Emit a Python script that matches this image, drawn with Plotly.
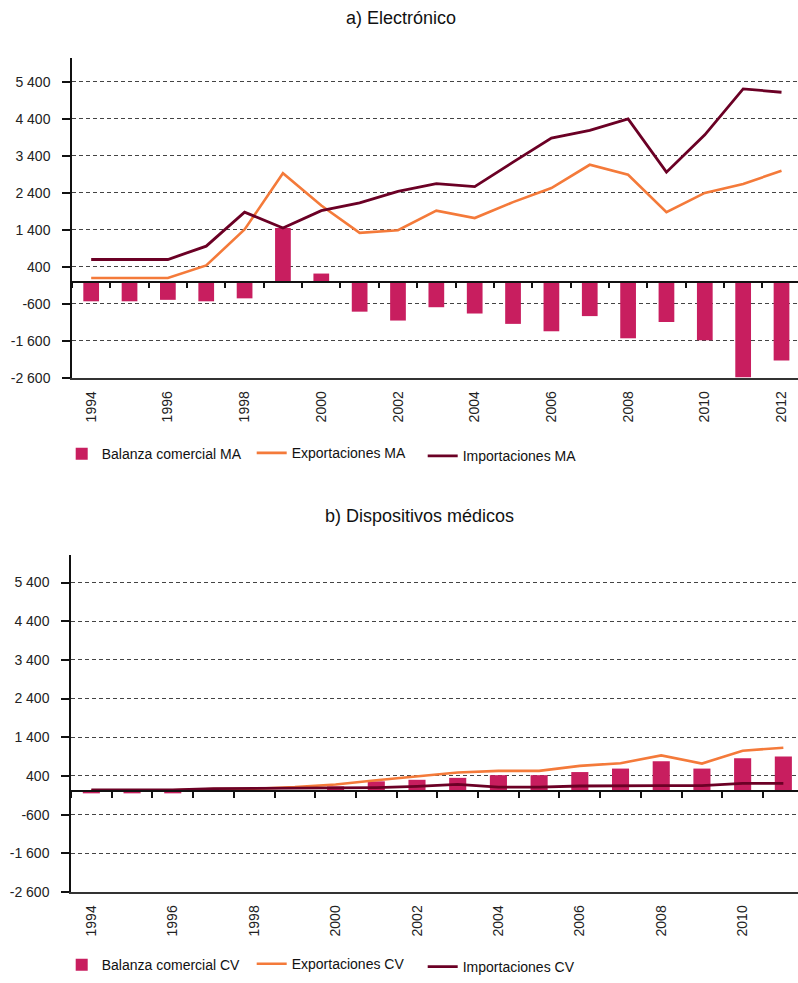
import plotly.graph_objects as go

W, H = 798, 983

years_a = list(range(1994, 2013))
balanza_ma = [-530, -530, -490, -530, -450, 1450, 220, -810, -1050, -690, -860,
              -1140, -1340, -930, -1530, -1090, -1580, -2580, -2130]
export_ma = [100, 100, 100, 440, 1410, 2930, 2060, 1320, 1390, 1920, 1720,
             2150, 2530, 3160, 2890, 1880, 2400, 2640, 3000]
import_ma = [600, 600, 600, 960, 1880, 1450, 1920, 2130, 2440, 2650, 2570,
             3230, 3880, 4090, 4400, 2960, 3970, 5210, 5120]

years_b = list(range(1994, 2012))
balanza_cv = [-50, -50, -50, 10, 10, 20, 130, 260, 300, 350, 420, 420, 500,
              590, 780, 590, 860, 900]
export_cv = [30, 30, 30, 60, 70, 110, 180, 290, 390, 490, 530, 530, 660,
             730, 930, 720, 1050, 1130]
import_cv = [40, 40, 40, 70, 75, 75, 80, 100, 130, 180, 110, 110, 140, 150,
             150, 150, 210, 210]

ytick_vals = [-2600, -1600, -600, 400, 1400, 2400, 3400, 4400, 5400]
ytick_text = ["-2 600", "-1 600", "-600", "400", "1 400", "2 400", "3 400",
              "4 400", "5 400"]

C_BAR = "#C81E5F"
C_EXP = "#F47A3A"
C_IMP = "#6B0025"
FONT = "Liberation Sans, Arial, sans-serif"

# pixel layout
top_a, bot_a = 58.3, 381.0
top_b, bot_b = 560.0, 899.3
range_a = [-2600, 6050]
range_b = [-2600, 6100]


def py(p):
    return 1 - p / H


def px(p):
    return p / W


dom_a = [py(bot_a), py(top_a)]
dom_b = [py(bot_b), py(top_b)]


def zero_pos(dom, rng):
    return dom[0] + (0 - rng[0]) / (rng[1] - rng[0]) * (dom[1] - dom[0])


xa = list(range(len(years_a)))
xb = list(range(len(years_b)))

fig = go.Figure()

# Panel a
fig.add_trace(go.Bar(x=xa, y=balanza_ma, name="Balanza comercial MA",
                     marker=dict(color=C_BAR, line=dict(width=0)), width=0.41,
                     xaxis="x", yaxis="y", legend="legend", showlegend=True))
fig.add_trace(go.Scatter(x=xa, y=export_ma, name="Exportaciones MA", mode="lines",
                         line=dict(color=C_EXP, width=2.6), xaxis="x3", yaxis="y",
                         legend="legend2", showlegend=True))
fig.add_trace(go.Scatter(x=xa, y=import_ma, name="Importaciones MA", mode="lines",
                         line=dict(color=C_IMP, width=2.8), xaxis="x3", yaxis="y",
                         legend="legend3", showlegend=True))

# Panel b
fig.add_trace(go.Bar(x=xb, y=balanza_cv, name="Balanza comercial CV",
                     marker=dict(color=C_BAR, line=dict(width=0)), width=0.42,
                     xaxis="x2", yaxis="y2", legend="legend4", showlegend=True))
fig.add_trace(go.Scatter(x=xb, y=export_cv, name="Exportaciones CV", mode="lines",
                         line=dict(color=C_EXP, width=2.6), xaxis="x4", yaxis="y2",
                         legend="legend5", showlegend=True))
fig.add_trace(go.Scatter(x=xb, y=import_cv, name="Importaciones CV", mode="lines",
                         line=dict(color=C_IMP, width=2.8), xaxis="x4", yaxis="y2",
                         legend="legend6", showlegend=True))

xr_a = [-0.5, 18.43]
xr_b = [-0.5, 17.36]

lab_a_vals = [i for i in xa if i % 2 == 0]
lab_a_text = [str(years_a[i]) for i in lab_a_vals]
lab_b_vals = [i for i in xb if i % 2 == 0]
lab_b_text = [str(years_b[i]) for i in lab_b_vals]

xbase = dict(showgrid=False, zeroline=False, fixedrange=True,
             tickfont=dict(family=FONT, size=14, color="#222"))

yaxis_common = dict(
    tickvals=ytick_vals, ticktext=ytick_text, showgrid=True, gridcolor="#444",
    griddash="4px,3px", gridwidth=1, zeroline=False, showline=True,
    linecolor="#111", linewidth=1.5, ticks="outside", ticklen=8,
    tickcolor="#111", tickwidth=1.5, ticklabelstandoff=9,
    tickfont=dict(family=FONT, size=14, color="#222"), fixedrange=True,
)


def leg(text_x, text_y):
    return dict(orientation="h", xanchor="left", yanchor="middle",
                x=px(text_x - 40), y=py(text_y), visible=True,
                font=dict(family=FONT, size=14, color="#111"),
                bgcolor="rgba(0,0,0,0)")


fig.update_layout(
    width=W, height=H, margin=dict(l=0, r=0, t=0, b=0), showlegend=True,
    paper_bgcolor="white", plot_bgcolor="white", barmode="overlay",
    xaxis=dict(domain=[px(72), 1], anchor="y", range=xr_a,
               tickvals=lab_a_vals, ticktext=lab_a_text, tickangle=-90, ticks="",
               showline=True, linecolor="#333", linewidth=1.5,
               ticklabelstandoff=6, **xbase),
    xaxis3=dict(overlaying="x", anchor="free", position=zero_pos(dom_a, range_a),
                range=xr_a, tickvals=[i - 0.5 for i in range(len(years_a) + 1)],
                showticklabels=False, ticks="outside", ticklen=6, tickwidth=1.5,
                tickcolor="#111", showline=True, linecolor="#111", linewidth=1.5,
                **xbase),
    yaxis=dict(domain=dom_a, anchor="x", range=range_a, **yaxis_common),
    xaxis2=dict(domain=[px(71), 1], anchor="y2", range=xr_b,
                tickvals=lab_b_vals, ticktext=lab_b_text, tickangle=-90, ticks="",
                showline=True, linecolor="#333", linewidth=1.5,
                ticklabelstandoff=6, **xbase),
    xaxis4=dict(overlaying="x2", anchor="free", position=zero_pos(dom_b, range_b),
                range=xr_b, tickvals=[i - 0.5 for i in range(len(years_b) + 1)],
                showticklabels=False, ticks="outside", ticklen=6, tickwidth=1.5,
                tickcolor="#111", showline=True, linecolor="#111", linewidth=1.5,
                **xbase),
    yaxis2=dict(domain=dom_b, anchor="x2", range=range_b, **yaxis_common),
    legend=leg(101.7, 458),
    legend2=leg(291.7, 457),
    legend3=leg(462.7, 460),
    legend4=leg(101.7, 973),
    legend5=leg(291.7, 972),
    legend6=leg(462.7, 975),
    annotations=[
        dict(text="a) Electrónico", x=px(401), y=py(18),
             xref="paper", yref="paper", showarrow=False, xanchor="center",
             yanchor="middle", font=dict(family=FONT, size=18, color="#111")),
        dict(text="b) Dispositivos médicos", x=px(419), y=py(520),
             xref="paper", yref="paper", showarrow=False, xanchor="center",
             yanchor="middle", font=dict(family=FONT, size=18, color="#111")),
    ],
)

fig.write_html(
    "out.html",
    config={"displayModeBar": False},
    post_script="document.body.style.margin='0';"
                "document.body.style.overflow='hidden';",
)
